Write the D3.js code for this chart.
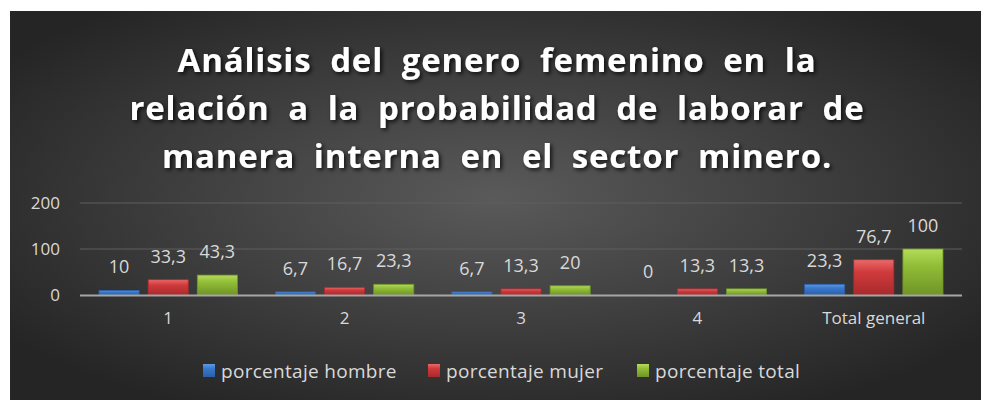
<!DOCTYPE html>
<html><head><meta charset="utf-8">
<script src="https://cdn.jsdelivr.net/npm/d3@7"></script>
<style>html,body{margin:0;padding:0;background:#fff;}svg{display:block;}</style>
</head><body>
<script>
const categories = ["1","2","3","4","Total general"];
const seriesNames = ["porcentaje hombre","porcentaje mujer","porcentaje total"];
const hombre = [10, 6.7, 6.7, 0, 23.3];
const mujer = [33.3, 16.7, 13.3, 13.3, 76.7];
const total = [43.3, 23.3, 20, 13.3, 100];
const yTicks = [0, 100, 200];
const titleLines = ["Análisis  del  genero  femenino  en  la","relación  a  la  probabilidad  de  laborar  de","manera  interna  en  el  sector  minero."];

const W = 981, H = 400;
const series = [hombre, mujer, total];
const colors = [
  {top:"#5c9be6", mid:"#3a78cc", bot:"#2a5fa8"},
  {top:"#ea6a6a", mid:"#d03a3c", bot:"#a82a2c"},
  {top:"#b4dc5a", mid:"#92be38", bot:"#6f9426"}
];

const svg = d3.select("body").append("svg").attr("width", W).attr("height", H);
const defs = svg.append("defs");
const bg = defs.append("radialGradient").attr("id","bg").attr("cx","50%").attr("cy","48%").attr("r","62%");
bg.append("stop").attr("offset","0%").attr("stop-color","#5a5a5a");
bg.append("stop").attr("offset","100%").attr("stop-color","#252525");
colors.forEach((c,i)=>{
  const g = defs.append("linearGradient").attr("id","bar"+i).attr("x1",0).attr("x2",0).attr("y1",0).attr("y2",1);
  g.append("stop").attr("offset","0%").attr("stop-color",c.top);
  g.append("stop").attr("offset","35%").attr("stop-color",c.mid);
  g.append("stop").attr("offset","100%").attr("stop-color",c.bot);
});
const f = defs.append("filter").attr("id","shadow").attr("x","-10%").attr("y","-30%").attr("width","120%").attr("height","160%");
f.append("feDropShadow").attr("dx",2).attr("dy",2).attr("stdDeviation",2).attr("flood-color","#000").attr("flood-opacity",0.8);

svg.append("rect").attr("x",10).attr("y",11).attr("width",W-10).attr("height",H-11).attr("fill","url(#bg)");

// title
svg.append("g").attr("filter","url(#shadow)").selectAll("text").data(titleLines).join("text")
  .attr("x", 497).attr("y",(d,i)=>72+i*48)
  .attr("text-anchor","middle")
  .attr("font-family","'Open Sans', sans-serif").attr("font-weight","700")
  .attr("font-size",33).attr("letter-spacing",0.8).attr("fill","#ffffff")
  .attr("xml:space","preserve").style("white-space","pre")
  .text(d=>d);

const x0 = d3.scaleBand().domain(categories).range([80,962]).padding(0);
const x1 = d3.scaleBand().domain(seriesNames).range([19, x0.bandwidth()-19]).paddingInner(0.184).paddingOuter(0);
const y = d3.scaleLinear().domain([0,200]).range([295,203]);

// gridlines
svg.append("g").selectAll("line").data(yTicks.filter(t=>t>0)).join("line")
  .attr("x1",80).attr("x2",962).attr("y1",d=>y(d)).attr("y2",d=>y(d))
  .attr("stroke","#5e5e5e").attr("stroke-width",1);

// y axis labels
const yAxis = d3.axisLeft(y).tickValues(yTicks).tickSize(0).tickPadding(0);
const ya = svg.append("g").attr("transform","translate(60,0)").call(yAxis);
ya.select(".domain").remove();
ya.selectAll("text").attr("font-family","'Open Sans', sans-serif").attr("font-size",17).attr("fill","#d9d9d9").attr("dy","0.35em");

// bars
const groups = svg.append("g").selectAll("g").data(categories).join("g")
  .attr("transform", d=>`translate(${x0(d)},0)`);
seriesNames.forEach((s,si)=>{
  groups.append("rect")
    .attr("x", x1(s)).attr("width", x1.bandwidth())
    .attr("y", (d,i)=>y(series[si][i])).attr("height",(d,i)=>y(0)-y(series[si][i]))
    .attr("fill", `url(#bar${si})`)
    .attr("stroke", colors[si].bot).attr("stroke-width", 0.8);
  groups.append("text")
    .attr("x", x1(s)+x1.bandwidth()/2)
    .attr("y", (d,i)=>y(series[si][i]) - 17)
    .attr("text-anchor","middle")
    .attr("font-family","'Open Sans', sans-serif").attr("font-size",18).attr("fill","#d9d9d9")
    .text((d,i)=>String(series[si][i]).replace(".",","));
});

// x axis
svg.append("line").attr("x1",80).attr("x2",962).attr("y1",y(0)+0.5).attr("y2",y(0)+0.5)
  .attr("stroke","#a6a6a6").attr("stroke-width",2);
const xAxis = d3.axisBottom(x0).tickSize(0).tickPadding(0);
const xa = svg.append("g").attr("transform","translate(0,318)").call(xAxis);
xa.select(".domain").remove();
xa.selectAll("text").attr("font-family","'Open Sans', sans-serif").attr("font-size",17).attr("fill","#d9d9d9").attr("dy","0.35em");

// legend
const legendX = [203, 428, 637];
const lg = svg.append("g").selectAll("g").data(seriesNames).join("g")
  .attr("transform",(d,i)=>`translate(${legendX[i]},371)`);
lg.append("rect").attr("x",0).attr("y",-7).attr("width",12).attr("height",13)
  .attr("fill",(d,i)=>`url(#bar${i})`);
lg.append("text").attr("x",18).attr("y",0).attr("dy","0.35em")
  .attr("font-family","'Open Sans', sans-serif").attr("font-size",19).attr("letter-spacing",0.3).attr("fill","#d9d9d9")
  .text(d=>d);
</script>
</body></html>
